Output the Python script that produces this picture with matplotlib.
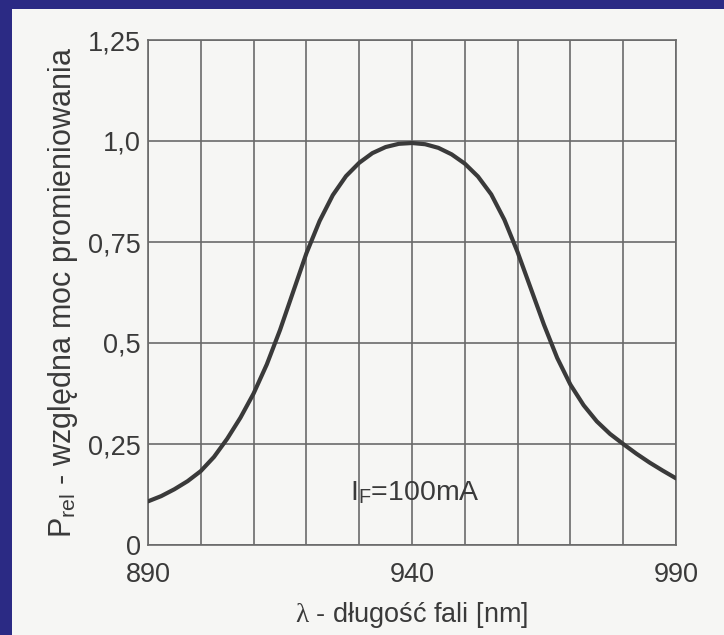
import numpy
import matplotlib
matplotlib.use("Agg")
import matplotlib.pyplot as plt
from matplotlib.patches import Rectangle

# wavelength [nm] and relative radiant power
wavelength = [890, 892.5, 895, 897.5, 900, 902.5, 905, 907.5, 910, 912.5,
	915, 917.5, 920, 922.5, 925, 927.5, 930, 932.5, 935, 937.5,
	940, 942.5, 945, 947.5, 950, 952.5, 955, 957.5, 960, 962.5,
	965, 967.5, 970, 972.5, 975, 977.5, 980, 982.5, 985, 987.5, 990]
p_rel = [0.108, 0.121, 0.138, 0.158, 0.183, 0.218, 0.263, 0.315, 0.375, 0.447,
	0.532, 0.627, 0.722, 0.802, 0.866, 0.913, 0.946, 0.97, 0.985, 0.993,
	0.995, 0.992, 0.983, 0.967, 0.944, 0.912, 0.868, 0.805, 0.725, 0.635,
	0.545, 0.463, 0.397, 0.346, 0.306, 0.275, 0.25, 0.226, 0.204, 0.184, 0.165]

x_ticks = [890, 940, 990]
x_ticklabels = ["890", "940", "990"]
x_grid = list(range(890, 991, 10))
y_ticks = [0, 0.25, 0.5, 0.75, 1.0, 1.25]
y_ticklabels = ["0", "0,25", "0,5", "0,75", "1,0", "1,25"]

ink = "#3a3a3a"
grid_col = "#6a6a6a"
paper = "#f6f6f4"

plt.rcParams['font.family'] = ['Liberation Sans', 'DejaVu Sans']
plt.rcParams['mathtext.fontset'] = 'custom'
plt.rcParams['mathtext.rm'] = 'Liberation Sans'
plt.rcParams['mathtext.sf'] = 'Liberation Sans'
plt.rcParams['mathtext.it'] = 'Liberation Serif'

fig = plt.figure(figsize=(7.24, 6.35), dpi=100, facecolor="#2b2a84")
fig.patches.append(Rectangle((12/724., 0), 1, 1 - 9/635., transform=fig.transFigure,
	facecolor=paper, edgecolor='none', zorder=-10))

ax = fig.add_axes([148/724., 90/635., 528/724., 505/635.])
ax.set_facecolor(paper)

for xv in x_grid:
	ax.axvline(xv, color=grid_col, lw=1.2, zorder=1)
for yv in y_ticks:
	ax.axhline(yv, color=grid_col, lw=1.2, zorder=1)

ax.plot(wavelength, p_rel, color=ink, lw=3.0, solid_capstyle='round', zorder=3)

ax.set_xlim(890, 990)
ax.set_ylim(0, 1.25)
ax.set_xticks(x_ticks)
ax.set_xticklabels(x_ticklabels)
ax.set_yticks(y_ticks)
ax.set_yticklabels(y_ticklabels)
ax.tick_params(axis='both', length=0, labelsize=19.5, labelcolor=ink)
ax.tick_params(axis='x', pad=12)
ax.tick_params(axis='y', pad=5)
for s in ax.spines.values():
	s.set_color(grid_col)
	s.set_linewidth(1.2)

ax.set_xlabel(r"$\lambda$ - długość fali [nm]", fontsize=19.5, color=ink, labelpad=9)
ax.set_ylabel(r"P$_{\mathregular{rel}}$ - względna moc promieniowania", fontsize=22,
	color=ink, labelpad=6)

ax.text(940.6, 0.13, r"I$_{\mathregular{F}}$=100mA", fontsize=20.5, color=ink,
	ha='center', va='center', zorder=4)

fig.savefig("out.png", dpi=100, facecolor=fig.get_facecolor())
